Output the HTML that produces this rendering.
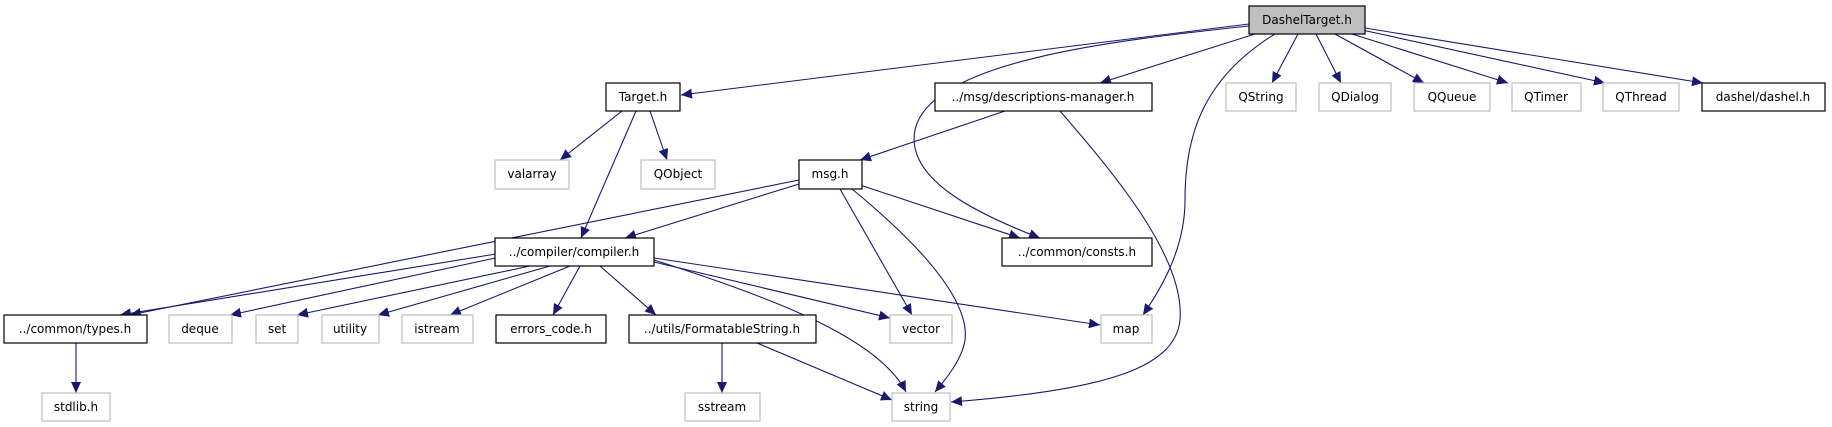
<!DOCTYPE html>
<html><head><meta charset="utf-8"><style>
html,body{margin:0;padding:0;background:#fff;}
svg{display:block;}
text{font-family:"DejaVu Sans","Liberation Sans",sans-serif;font-size:12px;fill:#000;text-anchor:middle;}
.b{fill:#fff;stroke:#000;stroke-width:1.2}
.g{fill:#fff;stroke:#bfbfbf;stroke-width:1.2}
.e{fill:none;stroke:#191970;stroke-width:1.1}
</style></head><body>
<svg width="1832" height="427" viewBox="0 0 1832 427" xmlns="http://www.w3.org/2000/svg">
<defs>
<marker id="a" markerUnits="userSpaceOnUse" markerWidth="12" markerHeight="10" refX="11" refY="5" orient="auto">
<path d="M0,0 L11,5 L0,10 z" fill="#191970"/>
</marker>
</defs>
<g marker-end="url(#a)">
<!-- DashelTarget edges -->
<path class="e" d="M1249,24 L681,95"/>
<path class="e" d="M1255,34 L1100,83"/>
<path class="e" d="M1249,26 C1120,40 930,60 915,130 C905,180 980,215 1040,238"/>
<path class="e" d="M1275,34 C1200,80 1185,140 1185,200 C1185,250 1160,290 1143,315"/>
<path class="e" d="M1298,34 L1272,83"/>
<path class="e" d="M1316,34 L1341,83"/>
<path class="e" d="M1335,34 L1424,83"/>
<path class="e" d="M1352,34 L1508,83"/>
<path class="e" d="M1362,30 L1605,83"/>
<path class="e" d="M1365,28 L1703,83"/>
<!-- desc-manager -->
<path class="e" d="M1005,111 L860,160"/>
<path class="e" d="M1060,111 C1120,180 1185,260 1180,320 C1175,370 1100,390 951,402"/>
<!-- Target.h -->
<path class="e" d="M622,111 L560,160"/>
<path class="e" d="M650,111 L667,160"/>
<path class="e" d="M636,111 L581,238"/>
<!-- msg.h -->
<path class="e" d="M799,180 L130,315"/>
<path class="e" d="M799,184 L625,238"/>
<path class="e" d="M860,185 L1020,238"/>
<path class="e" d="M840,189 L912,315"/>
<path class="e" d="M852,189 C920,245 970,300 965,340 C962,360 945,380 935,392"/>
<!-- compiler.h -->
<path class="e" d="M496,254 L120,315"/>
<path class="e" d="M500,257 L230,315"/>
<path class="e" d="M530,266 L297,315"/>
<path class="e" d="M550,266 L378,315"/>
<path class="e" d="M570,266 L450,315"/>
<path class="e" d="M580,266 L553,315"/>
<path class="e" d="M600,266 L656,315"/>
<path class="e" d="M654,262 L890,318"/>
<path class="e" d="M654,258 L1100,325"/>
<path class="e" d="M654,260 C780,300 880,340 906,392"/>
<!-- others -->
<path class="e" d="M76,343 L76,393"/>
<path class="e" d="M722,343 L722,393"/>
<path class="e" d="M757,343 L892,400"/>
</g>
<!-- nodes -->
<rect x="1249" y="6" width="116" height="28" fill="#bfbfbf" stroke="#000" stroke-width="1.2"/><text x="1307" y="24">DashelTarget.h</text>
<rect class="b" x="606" y="83" width="74" height="28"/><text x="643" y="101">Target.h</text>
<rect class="b" x="935" y="83" width="217" height="28"/><text x="1043" y="101">../msg/descriptions-manager.h</text>
<rect class="g" x="1226" y="83" width="70" height="28"/><text x="1261" y="101">QString</text>
<rect class="g" x="1319" y="83" width="72" height="28"/><text x="1355" y="101">QDialog</text>
<rect class="g" x="1414" y="83" width="76" height="28"/><text x="1452" y="101">QQueue</text>
<rect class="g" x="1512" y="83" width="69" height="28"/><text x="1546" y="101">QTimer</text>
<rect class="g" x="1603" y="83" width="76" height="28"/><text x="1641" y="101">QThread</text>
<rect class="b" x="1702" y="83" width="123" height="28"/><text x="1763" y="101">dashel/dashel.h</text>
<rect class="g" x="495" y="160" width="74" height="29"/><text x="532" y="178">valarray</text>
<rect class="g" x="641" y="160" width="74" height="29"/><text x="678" y="178">QObject</text>
<rect class="b" x="799" y="160" width="63" height="29"/><text x="830" y="178">msg.h</text>
<rect class="b" x="495" y="238" width="159" height="28"/><text x="574" y="256">../compiler/compiler.h</text>
<rect class="b" x="1002" y="238" width="150" height="28"/><text x="1077" y="256">../common/consts.h</text>
<rect class="b" x="4" y="315" width="143" height="28"/><text x="75" y="333">../common/types.h</text>
<rect class="g" x="169" y="315" width="63" height="28"/><text x="200" y="333">deque</text>
<rect class="g" x="256" y="315" width="42" height="28"/><text x="277" y="333">set</text>
<rect class="g" x="322" y="315" width="57" height="28"/><text x="350" y="333">utility</text>
<rect class="g" x="402" y="315" width="71" height="28"/><text x="437" y="333">istream</text>
<rect class="b" x="496" y="315" width="110" height="28"/><text x="551" y="333">errors_code.h</text>
<rect class="b" x="629" y="315" width="187" height="28"/><text x="722" y="333">../utils/FormatableString.h</text>
<rect class="g" x="890" y="315" width="62" height="28"/><text x="921" y="333">vector</text>
<rect class="g" x="1101" y="315" width="51" height="28"/><text x="1126" y="333">map</text>
<rect class="g" x="42" y="393" width="68" height="28"/><text x="76" y="411">stdlib.h</text>
<rect class="g" x="685" y="393" width="75" height="28"/><text x="722" y="411">sstream</text>
<rect class="g" x="892" y="393" width="58" height="28"/><text x="921" y="411">string</text>
</svg>
</body></html>
